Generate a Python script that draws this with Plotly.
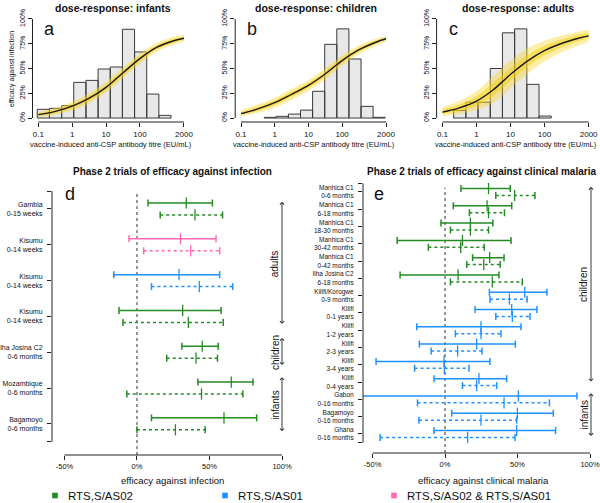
import plotly.graph_objects as go

W, H = 600, 503
FONT = "Liberation Sans, Arial, Helvetica, sans-serif"

# ---------------- data: dose-response panels ----------------
panel_titles = ["dose-response: infants", "dose-response: children", "dose-response: adults"]
panel_letters = ["a", "b", "c"]
bin_edges = [0.093, 0.213, 0.488, 1.11, 2.55, 5.82, 13.3, 30.4, 69.5, 159, 363, 830, 1897]
hist_infants = [8.8, 9.8, 12.5, 36, 38, 49.5, 51.5, 89.6, 66.7, 24.2, 2.7, 0]
hist_children = [0, 0, 0.7, 1.7, 4, 8, 27, 74.4, 90, 59.6, 11.8, 0.7]
hist_adults = [0, 7.7, 16, 16, 50, 86, 90, 34, 2, 0, 0, 0]

titre = [0.1, 0.3, 1, 3, 10, 30, 100, 300, 1000, 2000]
inf_mean = [3.5, 6.5, 12, 19.5, 31, 45, 60, 71, 78, 80.5]
inf_outer_lo = [1, 3, 7.5, 14.5, 25.5, 39.5, 55, 66.5, 74, 77]
inf_outer_hi = [6, 10, 16.5, 24.5, 36.5, 50.5, 65, 75.5, 82, 84]
inf_inner_lo = [2.2, 4.7, 9.7, 17, 28.2, 42.2, 57.4, 68.7, 76, 78.7]
inf_inner_hi = [4.8, 8.3, 14.3, 22, 33.8, 47.8, 62.6, 73.3, 80, 82.3]

chi_mean = [4.5, 9, 15.5, 23.5, 33, 44, 58, 68.5, 76.5, 80]
chi_outer_lo = [1.5, 5, 10.5, 18, 27.5, 38.5, 53, 64, 73, 77]
chi_outer_hi = [8, 13.5, 20.5, 29, 38.5, 49.5, 63, 73, 80, 83]
chi_inner_lo = [3, 7, 13, 20.8, 30.3, 41.3, 55.5, 66.3, 74.8, 78.5]
chi_inner_hi = [6.2, 11.2, 18, 26.2, 35.7, 46.7, 60.5, 70.7, 78.2, 81.5]

adu_mean = [6, 10, 17, 28, 44, 57, 68, 75, 80.5, 83]
adu_outer_lo = [2, 4, 8, 15, 30, 44, 57, 66, 73, 77]
adu_outer_hi = [11, 17, 27, 42, 58, 70, 78, 83, 87, 89]
adu_inner_lo = [4, 7, 12.5, 22, 37.5, 51, 63, 71, 77.5, 80.5]
adu_inner_hi = [8.5, 13.5, 22, 35, 50.5, 63, 73, 79, 84, 86]

titre_ticks = [0.1, 1, 10, 100, 2000]
titre_tick_labels = ["0.1", "1", "10", "100", "2000"]
eff_ticks = [0, 25, 50, 75, 100]
eff_tick_labels = ["0%", "25%", "50%", "75%", "100%"]

# ---------------- data: infection trials (d) ----------------
inf_trials = ["Gambia<br>0-15 weeks", "Kisumu<br>0-14 weeks", "Kisumu<br>0-14 weeks",
              "Kisumu<br>0-14 weeks", "Ilha Josina C2<br>0-6 months",
              "Mozambique<br>0-6 months", "Bagamoyo<br>0-6 months"]
inf_vaccine = ["AS02", "both", "AS01", "AS02", "AS02", "AS02", "AS02"]
inf_obs_est = [34, 30, 29, 31.5, 45, 65, 60]
inf_obs_lo = [7.6, -5.5, -16, -12.4, 31, 42, 10]
inf_obs_hi = [52, 54.5, 57, 58, 56, 80, 82.5]
inf_pred_est = [40, 37, 43, 35.4, 40.7, 44.5, 26.5]
inf_pred_lo = [16, 4.6, 10, -9.7, 20.5, -7, 0]
inf_pred_hi = [59, 57, 66, 59.5, 55.5, 73, 47]
inf_groups = ["adults", "children", "infants"]
inf_group_span = [(0.8, 4.25), (4.6, 5.4), (5.7, 7.25)]

# ---------------- data: clinical malaria trials (e) ----------------
cli_trials = ["Manhica C1<br>0-6 months", "Manhica C1<br>6-18 months", "Manhica C1<br>18-30 months",
              "Manhica C1<br>30-42 months", "Manhica C1<br>0-42 months", "Ilha Josina C2<br>6-18 months",
              "Kilifi/Korogwe<br>0-9 months", "Kilifi<br>0-1 years", "Kilifi<br>1-2 years",
              "Kilifi<br>2-3 years", "Kilifi<br>3-4 years", "Kilifi<br>0-4 years",
              "Gabon<br>0-16 months", "Bagamoyo<br>0-16 months", "Ghana<br>0-16 months"]
cli_vaccine = ["AS02"] * 6 + ["AS01"] * 9
cli_obs_est = [30, 29, 17.5, 12, 30.8, 9, 55, 46, 24.8, 21.8, -0.7, 23.4, 50.6, 49.9, 49.4]
cli_obs_lo = [11, 5.7, -2.8, -33, 19, -31, 30.6, 20.7, -19.5, -17.7, -47.6, -7.6, -65, 4.6, -7.6]
cli_obs_hi = [45, 46, 33, 45.5, 40.7, 37.2, 70.3, 63.4, 52.4, 48.5, 31, 42.5, 91, 74.7, 76.3]
cli_pred_est = [48, 30, 17.5, 10.8, 26.7, 32.6, 44.4, 46.4, 24.8, 8.7, -0.5, 21.8, 40.7, 24.8, 15.6]
cli_pred_lo = [35, 16.8, 3.7, -11.5, 15, 3.7, 31, 35, 7.1, -9.6, -21, 12, -19, -18, -44.8]
cli_pred_hi = [62, 41, 30, 27, 38, 53.3, 56.6, 58.6, 38.6, 25.5, 16.5, 35.6, 72, 49.4, 48.3]
cli_groups = ["children", "infants"]
cli_group_span = [(0.7, 12.05), (12.65, 15.2)]

pct_ticks = [-50, 0, 50, 100]
pct_tick_labels = ["-50%", "0%", "50%", "100%"]

legend_keys = ["AS02", "AS01", "both"]
legend_labels = ["RTS,S/AS02", "RTS,S/AS01", "RTS,S/AS02 & RTS,S/AS01"]
COLORS = {"AS02": "#228B22", "AS01": "#1E90FF", "both": "#FF69B4"}

# ---------------- figure ----------------
fig = go.Figure()
shapes, annotations = [], []
AX = "#222222"


def fx(p):
    return p / W


def fy(p):
    return 1 - p / H


top_x_px = [(32.5, 189.8), (235.2, 391.8), (436.6, 594.5)]
top_y_px = (15, 122)
hists = [hist_infants, hist_children, hist_adults]
curves = [
    (inf_mean, inf_outer_lo, inf_outer_hi, inf_inner_lo, inf_inner_hi),
    (chi_mean, chi_outer_lo, chi_outer_hi, chi_inner_lo, chi_inner_hi),
    (adu_mean, adu_outer_lo, adu_outer_hi, adu_inner_lo, adu_inner_hi),
]
layout_axes = {}
for i in range(3):
    sfx = "" if i == 0 else str(i + 1)
    xa, ya = "x" + sfx, "y" + sfx
    xs, ys = [], []
    for l, r, h in zip(bin_edges[:-1], bin_edges[1:], hists[i]):
        if h <= 0:
            continue
        xs += [l, l, r, r, l, None]
        ys += [0, h, h, 0, 0, None]
    fig.add_trace(go.Scatter(x=xs, y=ys, mode="lines", fill="toself", fillcolor="#e8e8e8",
                             line=dict(color="#3a3a3a", width=1), xaxis=xa, yaxis=ya,
                             hoverinfo="skip", showlegend=False))
    mean, olo, ohi, ilo, ihi = curves[i]
    for lo, hi, col in [(olo, ohi, "rgba(250,215,40,0.40)"), (ilo, ihi, "rgba(245,205,10,0.50)")]:
        fig.add_trace(go.Scatter(x=titre, y=lo, mode="lines", line=dict(width=0, shape="spline"),
                                 xaxis=xa, yaxis=ya, hoverinfo="skip", showlegend=False))
        fig.add_trace(go.Scatter(x=titre, y=hi, mode="lines", line=dict(width=0, shape="spline"),
                                 fill="tonexty", fillcolor=col,
                                 xaxis=xa, yaxis=ya, hoverinfo="skip", showlegend=False))
    fig.add_trace(go.Scatter(x=titre, y=mean, mode="lines",
                             line=dict(color="#1a1a1a", width=1.4, shape="spline"),
                             xaxis=xa, yaxis=ya, hoverinfo="skip", showlegend=False))
    x0, x1 = top_x_px[i]
    layout_axes["xaxis" + sfx] = dict(
        domain=[fx(x0), fx(x1)], type="log", range=[-1.172, 3.473], anchor=ya,
        tickvals=titre_ticks, ticktext=titre_tick_labels, ticks="outside", ticklen=4,
        tickcolor=AX, tickwidth=1, showline=False, showgrid=False, zeroline=False,
        tickfont=dict(size=8, color="#111"), automargin=False, fixedrange=True)
    layout_axes["yaxis" + sfx] = dict(
        domain=[fy(top_y_px[1]), fy(top_y_px[0])], range=[-4, 104], anchor=xa,
        tickvals=eff_ticks, ticktext=eff_tick_labels, tickangle=-90, ticks="outside",
        ticklen=4, tickcolor=AX, tickwidth=1, showline=False, showgrid=False,
        zeroline=False, tickfont=dict(size=7, color="#111"), automargin=False, fixedrange=True)
    shapes.append(dict(type="line", xref=xa, yref=ya + " domain", x0=titre_ticks[0],
                       x1=titre_ticks[-1], y0=0, y1=0, line=dict(color=AX, width=1)))
    shapes.append(dict(type="line", xref=xa + " domain", yref=ya, x0=0, x1=0,
                       y0=eff_ticks[0], y1=eff_ticks[-1], line=dict(color=AX, width=1)))
    cx = (x0 + x1) / 2
    annotations.append(dict(text="<b>" + panel_titles[i] + "</b>", x=fx(cx + 2), y=fy(8),
                            xref="paper", yref="paper", showarrow=False,
                            font=dict(size=10.5, color="#111"), xanchor="center", yanchor="middle"))
    annotations.append(dict(text="vaccine-induced anti-CSP antibody titre (EU/mL)", x=fx(cx),
                            y=fy(144), xref="paper", yref="paper", showarrow=False,
                            font=dict(size=7.5, color="#111"), xanchor="center", yanchor="middle"))
    annotations.append(dict(text=panel_letters[i], x=fx(x0 + 16.5), y=fy(29), xref="paper",
                            yref="paper", showarrow=False, font=dict(size=18, color="#111"),
                            xanchor="center", yanchor="middle"))

annotations.append(dict(text="efficacy against infection", x=fx(12), y=fy(69), xref="paper",
                        yref="paper", showarrow=False, textangle=-90,
                        font=dict(size=7, color="#111"), xanchor="center", yanchor="middle"))


def forest(sfx, names, vaccine, ests, los, his, off, dash):
    xa, ya = "x" + sfx, "y" + sfx
    for key in legend_keys:
        idx = [i for i, v in enumerate(vaccine) if v == key]
        if not idx:
            continue
        xs, ys, cx, cy = [], [], [], []
        for i in idx:
            yy = i + 1 + off
            xs += [los[i], his[i], None]
            ys += [yy, yy, None]
            cx.append(ests[i])
            cy.append(yy)
        c = COLORS[key]
        fig.add_trace(go.Scatter(x=xs, y=ys, mode="lines+markers",
                                 line=dict(color=c, width=1.5, dash=dash),
                                 marker=dict(symbol="line-ns", size=5, line=dict(color=c, width=1.5)),
                                 xaxis=xa, yaxis=ya, hoverinfo="skip", showlegend=False))
        fig.add_trace(go.Scatter(x=cx, y=cy, mode="markers",
                                 marker=dict(symbol="line-ns", size=8, line=dict(color=c, width=1.3)),
                                 xaxis=xa, yaxis=ya, hoverinfo="skip", showlegend=False))


bottom = [
    dict(sfx="4", xpx=(52, 291), ypx=(185, 455), xr=[-58.6, 106.2], yr=[7.87, 0.33],
         names=inf_trials, vac=inf_vaccine,
         obs=(inf_obs_est, inf_obs_lo, inf_obs_hi), pred=(inf_pred_est, inf_pred_lo, inf_pred_hi),
         off=0.167, title="Phase 2 trials of efficacy against infection",
         xtitle="efficacy against infection", letter="d", groups=inf_groups,
         spans=inf_group_span, arrow_x=100, label_x=95, lab_size=7),
    dict(sfx="5", xpx=(363, 600), ypx=(181, 453), xr=[-56.6, 106.9], yr=[16.1, 0.364],
         names=cli_trials, vac=cli_vaccine,
         obs=(cli_obs_est, cli_obs_lo, cli_obs_hi), pred=(cli_pred_est, cli_pred_lo, cli_pred_hi),
         off=0.2, title="Phase 2 trials of efficacy against clinical malaria",
         xtitle="efficacy against clinical malaria", letter="e", groups=cli_groups,
         spans=cli_group_span, arrow_x=100.7, label_x=95.9, lab_size=6.5),
]
for p in bottom:
    sfx = p["sfx"]
    xa, ya = "x" + sfx, "y" + sfx
    forest(sfx, p["names"], p["vac"], *p["obs"], -p["off"], None)
    forest(sfx, p["names"], p["vac"], *p["pred"], p["off"], "3px,3px")
    n = len(p["names"])
    yt = [0.5] + list(range(1, n + 1)) + [n + 0.5]
    ytt = [""] + p["names"] + [""]
    layout_axes["xaxis" + sfx] = dict(
        domain=[fx(p["xpx"][0]), fx(p["xpx"][1])], range=p["xr"], anchor=ya,
        tickvals=pct_ticks, ticktext=pct_tick_labels, ticks="outside", ticklen=4,
        tickcolor=AX, tickwidth=1, showline=False, showgrid=False, zeroline=False,
        tickfont=dict(size=7.5, color="#111"), automargin=False, fixedrange=True)
    layout_axes["yaxis" + sfx] = dict(
        domain=[fy(p["ypx"][1]), fy(p["ypx"][0])], range=p["yr"], anchor=xa,
        tickvals=yt, ticktext=ytt, ticks="outside", ticklen=4, tickcolor=AX, tickwidth=1,
        showline=False, showgrid=False, zeroline=False, ticklabelstandoff=3,
        tickfont=dict(size=p["lab_size"], color="#111"), automargin=False, fixedrange=True)
    shapes.append(dict(type="line", xref=xa, yref=ya + " domain", x0=pct_ticks[0],
                       x1=pct_ticks[-1], y0=0, y1=0, line=dict(color=AX, width=1)))
    shapes.append(dict(type="line", xref=xa + " domain", yref=ya, x0=0, x1=0,
                       y0=yt[0], y1=yt[-1], line=dict(color=AX, width=1)))
    shapes.append(dict(type="line", xref=xa, yref=ya + " domain", x0=0, x1=0, y0=0, y1=0.975,
                       line=dict(color="#333", width=1, dash="dot"), layer="below"))
    tx = 172.5 if sfx == "4" else 481
    annotations.append(dict(text="<b>" + p["title"] + "</b>", x=fx(tx), y=fy(171),
                            xref="paper", yref="paper", showarrow=False,
                            font=dict(size=10, color="#111"), xanchor="center", yanchor="middle"))
    axt = 172.5 if sfx == "4" else 483.5
    annotations.append(dict(text=p["xtitle"], x=fx(axt), y=fy(480), xref="paper", yref="paper",
                            showarrow=False, font=dict(size=9.5, color="#111"),
                            xanchor="center", yanchor="middle"))
    lx = 70 if sfx == "4" else 379
    annotations.append(dict(text=p["letter"], x=fx(lx), y=fy(194), xref="paper", yref="paper",
                            showarrow=False, font=dict(size=18, color="#111"),
                            xanchor="center", yanchor="middle"))
    for g, (a, b) in zip(p["groups"], p["spans"]):
        annotations.append(dict(text="", x=p["arrow_x"], y=a, ax=p["arrow_x"], ay=b,
                                xref=xa, yref=ya, axref=xa, ayref=ya, showarrow=True,
                                arrowhead=4, startarrowhead=4, arrowside="end+start",
                                arrowsize=0.9, startarrowsize=0.9, arrowwidth=0.9,
                                arrowcolor="#222"))
        annotations.append(dict(text=g, x=p["label_x"], y=(a + b) / 2, xref=xa, yref=ya,
                                showarrow=False, textangle=-90, font=dict(size=10, color="#111"),
                                xanchor="center", yanchor="middle"))

# legend (manual)
leg_sq_x = [55, 225, 394]
for k, lab, sx in zip(legend_keys, legend_labels, leg_sq_x):
    shapes.append(dict(type="rect", xref="paper", yref="paper", x0=fx(sx - 2.8), x1=fx(sx + 2.8),
                       y0=fy(498.3), y1=fy(492.7), fillcolor=COLORS[k], line=dict(width=0)))
    annotations.append(dict(text=lab, x=fx(sx + 11), y=fy(496), xref="paper", yref="paper",
                            showarrow=False, font=dict(size=11.5, color="#111"),
                            xanchor="left", yanchor="middle"))

fig.update_layout(
    width=W, height=H, margin=dict(l=0, r=0, t=0, b=0), template="none",
    paper_bgcolor="white", plot_bgcolor="white", showlegend=False, hovermode=False,
    font=dict(family=FONT, color="#111"), shapes=shapes, annotations=annotations,
    **layout_axes)

fig.write_html("out.html", config={"displayModeBar": False, "staticPlot": True},
               post_script="document.body.style.margin='0px';document.body.style.overflow='hidden';")
